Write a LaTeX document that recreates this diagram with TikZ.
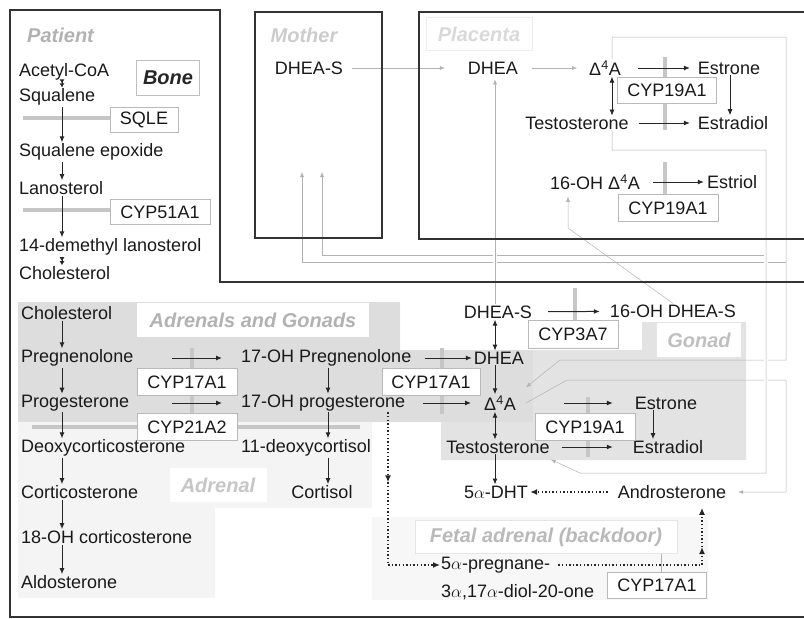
\documentclass[tikz,border=0pt]{standalone}
\usepackage{fontspec}
\setmainfont{Liberation Sans}
\usetikzlibrary{arrows.meta, positioning, calc}

\begin{document}
\begin{tikzpicture}[
        x=1pt, y=-1pt,
        font=\fontsize{18}{21}\selectfont,
        cmpd/.style={inner sep=1pt, text=black!90},
        lbl/.style={font=\fontsize{20}{22}\selectfont\bfseries\itshape, text=gray!60, inner sep=0pt},
        enz/.style={draw=gray!55, fill=white, inner sep=0pt, minimum width=100pt, minimum height=27pt, text=black!90},
        rxn/.style={-{Latex[length=6pt, width=5pt]}, line width=1pt, black!85},
        both/.style={arrows={Latex[length=6pt, width=5pt]-Latex[length=6pt, width=5pt]}, line width=1pt, black!85},
        multi/.style={arrows={-Latex[length=4pt, width=5pt]Latex[length=4pt, width=5pt]}, line width=1pt, black!85},
        bar/.style={line width=4.5pt, gray!45},
        thin/.style={line width=0.5pt, gray!60},
        thinarr/.style={thin, -{Latex[length=5pt, width=4pt]}},
        dotarr/.style={line width=1.4pt, dash pattern=on 1.4pt off 2.2pt, black!85, -{Latex[length=7pt, width=6pt]}},
        frame/.style={line width=1.6pt, black!80}
    ]
    \useasboundingbox (0,0) rectangle (804,619);

    % Shaded tissue regions
    \fill[gray!27] (18,302) rectangle (400,422) (400,350) rectangle (533,422);
    \fill[gray!22] (533,350) rectangle (746,460) (441,422) rectangle (533,460) (642,322) rectangle (746,350);
    \fill[gray!9] (18,422) rectangle (215,598) (215,422) rectangle (372,508);
    \fill[gray!6] (372,517) rectangle (708,600);

    % Enzyme bars
    \draw[bar] (23,118) -- (110,118);
    \draw[bar] (23,210) -- (110,210);
    \draw[bar] (192,348) -- (192,414);
    \draw[bar] (32,427) -- (360,427);
    \draw[bar] (442,348) -- (442,414);
    \draw[bar] (575,288) -- (575,321);
    \draw[bar] (588,397) -- (588,457);
    \draw[bar] (665,57) -- (665,130);
    \draw[bar] (665,162) -- (665,195);

    % Tissue labels
    \node[lbl, anchor=west] (patient) at (27,35) {Patient};
    \node[lbl, text=gray!40] (mother) at (304,35) {Mother};
    \node[lbl, text=gray!30, draw=gray!15, minimum width=106pt, minimum height=33pt] (placenta) at (479,34) {Placenta};
    \node[lbl, text=black!85, draw=gray!50, minimum width=63pt, minimum height=35pt] (bone) at (168,78) {Bone};
    \node[lbl, fill=white, minimum width=232pt, minimum height=34pt] (adgon) at (253,320) {Adrenals and Gonads};
    \node[lbl, text=gray!45, fill=white, minimum width=97pt, minimum height=34pt] (adrenal) at (218,485) {Adrenal};
    \node[lbl, text=gray!50, fill=white, draw=gray!20, minimum width=85pt, minimum height=35pt] (gonad) at (699,340) {Gonad};
    \node[lbl, text=gray!55, fill=white, draw=gray!20, minimum width=262pt, minimum height=33pt] (fetal) at (546,537) {Fetal adrenal (backdoor)};

    % Column positions
    \coordinate (colL) at (62,0);
    \coordinate (colM) at (328,0);
    \coordinate (colR) at (495,0);
    \coordinate (colE) at (653,0);
    \coordinate (colP) at (612,0);
    \coordinate (colQ) at (730,0);
    \coordinate (bdx) at (388,0);

    % Bone: cholesterol synthesis
    \node[cmpd, anchor=west] (acoa) at (18,72) {Acetyl-CoA};
    \node[cmpd, anchor=west] (squal) at (18,97) {Squalene};
    \node[cmpd, anchor=west] (sqep) at (18,152) {Squalene epoxide};
    \node[cmpd, anchor=west] (lano) at (18,188) {Lanosterol};
    \node[cmpd, anchor=west] (dmlano) at (18,247) {14-demethyl lanosterol};
    \node[cmpd, anchor=west] (cholA) at (18,273) {Cholesterol};
    \node[enz, minimum width=68pt, minimum height=25pt] (sqle) at (144,120) {SQLE};
    \node[enz, minimum width=100pt, minimum height=25pt] (cyp51) at (160,212) {CYP51A1};

    % Adrenals and gonads
    \node[cmpd, anchor=west] (cholB) at (20,313) {Cholesterol};
    \node[cmpd, anchor=west] (preg) at (20,358) {Pregnenolone};
    \node[cmpd, anchor=west] (prog) at (20,403) {Progesterone};
    \node[cmpd, anchor=west] (doc) at (20,448) {Deoxycorticosterone};
    \node[cmpd, anchor=west] (cort) at (20,492) {Corticosterone};
    \node[cmpd, anchor=west] (ohcort) at (20,537) {18-OH corticosterone};
    \node[cmpd, anchor=west] (aldo) at (20,582) {Aldosterone};
    \node[cmpd, anchor=west] (ohpreg) at (240,358) {17-OH Pregnenolone};
    \node[cmpd, anchor=west] (ohprog) at (240,403) {17-OH progesterone};
    \node[cmpd, anchor=west] (doxc) at (240,448) {11-deoxycortisol};
    \node[cmpd] (cortisol) at (322,492) {Cortisol};
    \node[enz] (cypA) at (187,382) {CYP17A1};
    \node[enz] (cypB) at (187,427) {CYP21A2};
    \node[enz, minimum width=98pt] (cypC) at (431,382) {CYP17A1};

    % Gonad and fetal adrenal
    \node[cmpd] (dheasF) at (498,312) {DHEA-S};
    \node[cmpd] (dheaF) at (499,358) {DHEA};
    \node[cmpd] (d4aF) at (500,403) {Δ\textsuperscript{4}A};
    \node[cmpd] (testoF) at (498,447) {Testosterone};
    \node[cmpd] (dht) at (496,492) {5$\alpha$-DHT};
    \node[cmpd] (ohdheas) at (673,311) {16-OH DHEA-S};
    \node[cmpd] (estroneF) at (666,403) {Estrone};
    \node[cmpd] (estradiolF) at (668,447) {Estradiol};
    \node[cmpd] (andro) at (672,492) {Androsterone};
    \node[cmpd, anchor=west] (pregnA) at (440,565) {5$\alpha$-pregnane-};
    \node[cmpd, anchor=west] (pregnB) at (440,592) {3$\alpha$,17$\alpha$-diol-20-one};
    \node[enz, minimum width=90pt, minimum height=28pt] (cypD) at (573,334) {CYP3A7};
    \node[enz] (cypE) at (585,427) {CYP19A1};
    \node[enz, minimum width=99pt, minimum height=26pt] (cypF) at (657,585) {CYP17A1};

    % Mother and placenta
    \node[cmpd] (dheasM) at (309,68) {DHEA-S};
    \node[cmpd] (dheaP) at (493,68) {DHEA};
    \node[cmpd] (d4aP) at (605,68) {Δ\textsuperscript{4}A};
    \node[cmpd] (estroneP) at (729,68) {Estrone};
    \node[cmpd] (testoP) at (577,123) {Testosterone};
    \node[cmpd] (estradiolP) at (733,123) {Estradiol};
    \node[cmpd] (ohd4a) at (595,182) {16-OH Δ\textsuperscript{4}A};
    \node[cmpd] (estriol) at (732,182) {Estriol};
    \node[enz, minimum width=99pt, minimum height=26pt] (cypG) at (667,90) {CYP19A1};
    \node[enz] (cypH) at (668,208) {CYP19A1};

    % Bone arrows
    \draw[multi] (acoa.south -| colL) -- (squal.north -| colL);
    \draw[rxn] (squal.south -| colL) -- (sqep.north -| colL);
    \draw[rxn] (sqep.south -| colL) -- (lano.north -| colL);
    \draw[rxn] (lano.south -| colL) -- (dmlano.north -| colL);
    \draw[multi] (dmlano.south -| colL) -- (cholA.north -| colL);

    % Steroidogenesis arrows
    \draw[rxn] (cholB.south -| colL) -- (preg.north -| colL);
    \draw[rxn] (preg.south -| colL) -- (prog.north -| colL);
    \draw[rxn] (prog.south -| colL) -- (doc.north -| colL);
    \draw[rxn] (doc.south -| colL) -- (cort.north -| colL);
    \draw[rxn] (cort.south -| colL) -- (ohcort.north -| colL);
    \draw[rxn] (ohcort.south -| colL) -- (aldo.north -| colL);
    \draw[rxn, shorten <=38pt, shorten >=18pt] (preg) -- (ohpreg);
    \draw[rxn, shorten <=42pt, shorten >=18pt] (prog) -- (ohprog);
    \draw[rxn] (ohpreg.south -| colM) -- (ohprog.north -| colM);
    \draw[rxn] (ohprog.south -| colM) -- (doxc.north -| colM);
    \draw[rxn] (doxc.south -| colM) -- (cortisol.north -| colM);
    \draw[rxn, shorten <=12pt, shorten >=1pt] (ohpreg.east) -- (ohpreg.east -| dheaF.west);
    \draw[rxn, shorten <=17pt, shorten >=12pt] (ohprog.east) -- (ohprog.east -| d4aF.west);

    % Gonad arrows
    \draw[both] (dheasF.south -| colR) -- (dheaF.north -| colR);
    \draw[rxn] (dheaF.south -| colR) -- (d4aF.north -| colR);
    \draw[both] (d4aF.south -| colR) -- (testoF.north -| colR);
    \draw[rxn] (testoF.south -| colR) -- (dht.north -| colR);
    \draw[rxn, shorten <=15pt, shorten >=9pt] (dheasF) -- (ohdheas);
    \draw[rxn, shorten <=47pt, shorten >=21pt] (d4aF.east) -- (d4aF.east -| estroneF.west);
    \draw[rxn, shorten <=11pt, shorten >=19pt] (testoF.east) -- (testoF.east -| estradiolF.west);
    \draw[rxn] (estroneF.south -| colE) -- (estradiolF.north -| colE);
    \draw[dotarr, shorten <=9pt, shorten >=1pt] (andro) -- (dht);

    % Backdoor pathway
    \coordinate (bdTurn) at ($(ohprog.south -| bdx)+(0,70)$);
    \coordinate (bdMid) at (702,547);
    \draw[dotarr] (ohprog.south -| bdx) -- (bdTurn);
    \draw[dotarr] (bdTurn) |- (pregnA.west);
    \draw[dotarr] ($(pregnA.east)+(7,0)$) -| (bdMid);
    \draw[dotarr, shorten >=8pt] (bdMid) -- (andro.south -| bdMid);
    \draw[thin, line width=0.8pt] (fetal.south -| cypF.north east) ++(-45,0) -- ++(0,19);

    % Placenta arrows
    \draw[thinarr, shorten <=8pt, shorten >=22pt] (dheasM) -- (dheaP);
    \draw[thinarr, shorten <=13pt, shorten >=11pt] (dheaP) -- (d4aP);
    \draw[rxn, line width=0.8pt, shorten <=16pt, shorten >=7pt] (d4aP.east) -- (d4aP.east -| estroneP.west);
    \draw[rxn, line width=0.8pt, shorten <=9pt, shorten >=7pt] (testoP.east) -- (testoP.east -| estradiolP.west);
    \draw[rxn, line width=0.8pt, shorten <=12pt, shorten >=2pt] (ohd4a.east) -- (ohd4a.east -| estriol.west);
    \draw[both, line width=0.8pt] (d4aP.south -| colP) -- (testoP.north -| colP);
    \draw[rxn, line width=0.8pt] (estroneP.south -| colQ) -- (estradiolP.north -| colQ);

    % Transfer between compartments
    \coordinate (mArrA) at (302,172);
    \coordinate (mArrB) at (322,172);
    \coordinate (bend) at (568,228);
    \draw[thinarr] (786,262) -| (mArrA);
    \draw[thinarr] (766,255) -| (mArrB);
    \draw[thinarr] (d4aP.north -| colP) |- (786,37) |- (560,360) -- ($(d4aF.north east)+(9,-7)$);
    \draw[thinarr, shorten >=11pt] ($(d4aF.east)+(9,0)$) -- (567,380) -| (786,492) -- (andro.east);
    \draw[thinarr, preaction={draw=white, line width=4pt}] (testoP.south -| colP) |- (766,150) |- (580,473) -- ($(testoF.south east)+(0,5)$);
    \draw[thinarr, shorten >=4pt, preaction={draw=white, line width=4pt}] (dheasF.north -| colR) -- (dheaP.south -| colR);
    \draw[thinarr, shorten >=6pt] (ohdheas.north) -- (bend) -- (bend |- ohd4a.south);

    % Compartment frames
    \draw[frame] (804,282) -- (220,282) -- (220,10) -- (10,10) -- (10,617) -- (804,617);
    \draw[frame] (255,12) rectangle (382,238);
    \draw[frame] (804,12) -- (419,12) -- (419,239) -- (804,239);

\end{tikzpicture}
\end{document}
